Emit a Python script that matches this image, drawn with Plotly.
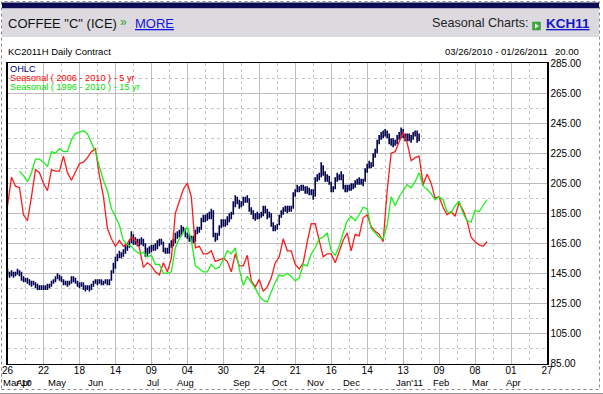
import plotly.graph_objects as go

# ---------------- data ----------------
day_ticks = ["26", "22", "18", "14", "09", "04", "30", "24", "21", "16", "14", "13", "09", "08", "01", "27"]
tick_spacing_days = 18
month_labels = ["Mar'10", "Apr", "May", "Jun", "Jul", "Aug", "Sep", "Oct", "Nov", "Dec", "Jan'11", "Feb", "Mar", "Apr"]
month_days = [5, 8, 25, 44, 72.6, 89, 117, 136, 154, 172, 201, 217, 236.5, 253]
price_ticks = [85, 105, 125, 145, 165, 185, 205, 225, 245, 265, 285]

ohlc_open = [
    146, 145, 144, 145, 144, 145, 146, 144, 141, 140,
    141, 139, 138, 138, 138, 136, 136, 135, 136, 135,
    136, 136, 137, 139, 140, 142, 143, 142, 140, 138,
    139, 138, 139, 142, 141, 139, 138, 137, 138, 136,
    135, 136, 135, 137, 139, 140, 139, 140, 138, 139,
    140, 138, 141, 146, 150, 155, 156, 158, 157, 160,
    162, 163, 166, 170, 166, 167, 165, 166, 167, 164,
    158, 160, 161, 163, 162, 163, 165, 166, 165, 161,
    160, 160, 164, 165, 166, 170, 171, 172, 175, 174,
    171, 170, 168, 168, 168, 173, 174, 175, 180, 182,
    181, 184, 183, 186, 170, 168, 171, 177, 180, 178,
    179, 181, 183, 185, 191, 195, 193, 190, 191, 195,
    194, 194, 187, 186, 183, 182, 184, 183, 184, 188,
    187, 183, 183, 177, 175, 176, 178, 183, 185, 187,
    188, 187, 189, 189, 198, 200, 202, 201, 203, 202,
    200, 201, 199, 200, 197, 208, 209, 210, 216, 212,
    208, 209, 205, 200, 202, 208, 210, 209, 210, 202,
    201, 203, 202, 203, 204, 205, 206, 207, 205, 208,
    214, 216, 218, 218, 224, 227, 233, 236, 237, 238,
    239, 237, 232, 233, 231, 233, 236, 237, 240, 236,
    235, 237, 234, 236, 238, 239, 234,
]
ohlc_high = [
    148, 146, 147, 146, 146, 148, 147, 146, 143, 142,
    142, 141, 140, 140, 139, 138, 137, 137, 137, 137,
    138, 138, 140, 141, 143, 145, 144, 143, 141, 140,
    140, 140, 143, 143, 142, 140, 139, 139, 139, 137,
    137, 137, 138, 140, 141, 141, 141, 141, 140, 141,
    141, 141, 147, 152, 156, 158, 160, 159, 161, 164,
    165, 167, 173, 171, 169, 168, 168, 169, 168, 165,
    162, 163, 164, 164, 165, 167, 168, 168, 166, 162,
    162, 165, 167, 168, 172, 173, 174, 177, 176, 175,
    172, 171, 170, 170, 174, 176, 176, 182, 184, 184,
    185, 186, 188, 187, 172, 172, 177, 181, 181, 181,
    183, 185, 186, 193, 197, 196, 194, 193, 196, 196,
    197, 195, 189, 187, 185, 186, 185, 186, 190, 190,
    188, 186, 185, 179, 177, 178, 184, 187, 189, 190,
    190, 190, 190, 199, 201, 204, 203, 204, 204, 203,
    203, 202, 201, 201, 209, 211, 212, 219, 217, 213,
    211, 210, 206, 203, 209, 212, 211, 213, 211, 204,
    204, 204, 205, 205, 207, 208, 209, 208, 208, 215,
    218, 220, 219, 225, 228, 234, 237, 239, 240, 241,
    240, 238, 235, 235, 234, 237, 239, 242, 241, 238,
    238, 238, 237, 239, 240, 240, 238,
]
ohlc_low = [
    144, 142, 143, 142, 143, 144, 143, 140, 139, 139,
    138, 137, 136, 137, 135, 134, 134, 134, 134, 134,
    134, 135, 136, 138, 139, 141, 140, 139, 137, 137,
    136, 137, 138, 139, 138, 136, 135, 136, 134, 133,
    134, 133, 134, 136, 138, 137, 138, 137, 137, 138,
    137, 137, 140, 145, 148, 153, 155, 155, 156, 158,
    160, 162, 165, 164, 164, 163, 163, 164, 163, 156,
    156, 158, 159, 160, 160, 161, 163, 164, 159, 158,
    158, 158, 162, 163, 165, 168, 169, 170, 172, 169,
    168, 166, 166, 165, 166, 171, 172, 174, 179, 179,
    180, 181, 181, 169, 166, 167, 170, 175, 176, 176,
    177, 179, 181, 184, 189, 191, 188, 189, 190, 192,
    192, 186, 184, 181, 180, 181, 181, 182, 183, 185,
    181, 182, 176, 173, 173, 174, 177, 182, 184, 186,
    185, 186, 186, 188, 196, 199, 199, 200, 200, 198,
    198, 197, 197, 194, 196, 206, 207, 209, 210, 206,
    206, 204, 199, 199, 201, 206, 207, 207, 201, 199,
    199, 200, 200, 201, 202, 204, 204, 204, 203, 206,
    212, 215, 215, 216, 222, 225, 231, 234, 235, 236,
    235, 231, 230, 229, 230, 231, 234, 235, 235, 233,
    233, 233, 232, 234, 236, 232, 233,
]
ohlc_close = [
    145, 144, 145, 144, 145, 146, 145, 141, 140, 141,
    139, 138, 138, 139, 136, 136, 135, 136, 135, 136,
    136, 137, 139, 140, 142, 143, 142, 141, 138, 139,
    138, 139, 142, 141, 139, 138, 137, 138, 136, 135,
    136, 135, 137, 139, 140, 139, 140, 138, 139, 140,
    138, 140, 146, 149, 155, 156, 158, 157, 160, 162,
    163, 166, 170, 166, 167, 165, 166, 167, 165, 158,
    160, 161, 163, 162, 163, 165, 166, 166, 161, 160,
    160, 164, 165, 166, 170, 171, 172, 175, 174, 171,
    170, 168, 168, 167, 173, 174, 174, 180, 182, 181,
    184, 183, 187, 170, 168, 171, 176, 180, 178, 179,
    181, 183, 184, 191, 195, 193, 190, 191, 195, 194,
    195, 187, 186, 183, 182, 184, 183, 184, 188, 187,
    183, 184, 177, 175, 176, 177, 183, 185, 187, 188,
    187, 189, 188, 198, 200, 202, 201, 203, 202, 200,
    201, 199, 200, 196, 208, 209, 210, 217, 212, 208,
    209, 205, 200, 201, 208, 210, 209, 211, 202, 201,
    203, 202, 203, 204, 205, 206, 207, 205, 207, 214,
    216, 218, 217, 224, 226, 233, 236, 237, 238, 239,
    237, 232, 233, 231, 232, 236, 237, 240, 236, 235,
    237, 234, 236, 238, 239, 233, 236,
]

# seasonal series, one value every 2 trading days
seasonal_step = 2
seasonal_5yr_start = 0
seasonal_5yr = [
    190, 209, 203, 202, 184, 180, 196, 214, 212, 205,
    200, 214, 213, 213, 223, 212, 207, 212, 218, 219,
    222, 226, 228, 210, 196, 175, 168, 163, 167, 163,
    165, 169, 167, 162, 149, 152, 150, 146, 144, 152,
    146, 155, 185, 193, 201, 205, 196, 162, 163, 158,
    158, 160, 153, 154, 155, 153, 146, 158, 150, 150,
    157, 140, 136, 141, 133, 136, 142, 152, 156, 168,
    160, 160, 151, 148, 152, 166, 178, 178, 167, 156,
    158, 158, 152, 160, 167, 172, 160, 171, 170, 182,
    184, 176, 173, 171, 166, 200, 225, 226, 232, 239,
    232, 220, 222, 223, 204, 211, 205, 195, 196, 189,
    184, 186, 183, 192, 187, 180, 169, 166, 164, 163,
    166,
]
seasonal_15yr_start = 6
seasonal_15yr = [
    213, 210, 206, 212, 221, 221, 219, 216, 226, 225,
    228, 226, 226, 234, 238, 239, 240, 238, 232, 226,
    216, 207, 200, 188, 183, 177, 167, 164, 163, 160,
    158, 159, 156, 157, 151, 151, 145, 145, 146, 162,
    168, 172, 176, 167, 150, 148, 146, 146, 151, 148,
    149, 154, 160, 158, 162, 148, 137, 143, 139, 135,
    130, 127, 126, 133, 139, 144, 143, 145, 143, 140,
    142, 151, 150, 158, 162, 168, 169, 172, 160, 157,
    163, 172, 180, 183, 180, 184, 189, 188, 175, 172,
    169, 168, 177, 196, 190, 196, 200, 204, 202, 206,
    212, 203, 201, 198, 194, 196, 194, 186, 185, 190,
    193, 185, 180, 179, 187, 186, 190, 194,
]

# ---------------- styling ----------------
W, H = 603, 394
FONT = "Liberation Sans, Arial, sans-serif"
NAVY = "#00004A"
RED = "#FF1A1A"
GREEN = "#1AF01A"
GRID = "#BDBDBD"
MINOR = "#C8C8C8"

def px(x):
    return x / W

def py(y):
    return 1 - y / H

n_ticks = len(day_ticks)
x_max = tick_spacing_days * (n_ticks - 1)
major_x = [k * tick_spacing_days for k in range(n_ticks)]
minor_x = [k * tick_spacing_days + tick_spacing_days / 2 for k in range(n_ticks - 1)]
minor_y = [v + 10 for v in price_ticks[:-1]]

fig = go.Figure()

fig.add_trace(go.Scatter(
    x=[seasonal_5yr_start + k * seasonal_step for k in range(len(seasonal_5yr))],
    y=seasonal_5yr, mode="lines", line=dict(color=RED, width=1.3),
    showlegend=False, hoverinfo="skip"))
fig.add_trace(go.Scatter(
    x=[seasonal_15yr_start + k * seasonal_step for k in range(len(seasonal_15yr))],
    y=seasonal_15yr, mode="lines", line=dict(color=GREEN, width=1.3),
    showlegend=False, hoverinfo="skip"))
fig.add_trace(go.Ohlc(
    x=list(range(len(ohlc_close))), open=ohlc_open, high=ohlc_high,
    low=ohlc_low, close=ohlc_close,
    increasing=dict(line=dict(color=NAVY, width=1.6)),
    decreasing=dict(line=dict(color=NAVY, width=1.6)),
    tickwidth=0.4, showlegend=False, hoverinfo="skip"))

fig.update_layout(
    width=W, height=H, margin=dict(l=0, r=0, t=0, b=0, autoexpand=False),
    paper_bgcolor="white", plot_bgcolor="white",
    font=dict(family=FONT, size=10, color="black"),
    showlegend=False,
    xaxis=dict(
        domain=[px(7.5), px(547)], range=[0, x_max], automargin=False,
        tickmode="array", tickvals=major_x, ticktext=day_ticks,
        ticklabelstandoff=-3,
        showgrid=True, gridcolor=GRID, gridwidth=1,
        minor=dict(tickmode="array", tickvals=minor_x, showgrid=True,
                   griddash="dot", gridcolor=MINOR, gridwidth=1),
        showline=True, linecolor="black", linewidth=1.5, mirror=True,
        ticks="", zeroline=False, tickfont=dict(size=10, family=FONT),
        rangeslider=dict(visible=False), fixedrange=True,
    ),
    yaxis=dict(
        domain=[py(363.5), py(63)], range=[85, 285], side="right", automargin=False,
        tickmode="array", tickvals=price_ticks,
        ticktext=[f"{v:.2f}" for v in price_ticks],
        showgrid=True, gridcolor=GRID, gridwidth=1,
        minor=dict(tickmode="array", tickvals=minor_y, showgrid=True,
                   griddash="dot", gridcolor=MINOR, gridwidth=1),
        showline=True, linecolor="black", linewidth=1.5, mirror=True,
        ticks="", zeroline=False, tickfont=dict(size=10, family=FONT),
        fixedrange=True,
    ),
)

shapes = [
    dict(type="rect", xref="paper", yref="paper", x0=px(1.5), x1=px(599.5), y0=py(389.5), y1=py(1.5),
         line=dict(color="#8A8A8A", width=1, dash="dot"), fillcolor="rgba(0,0,0,0)", layer="above"),
    dict(type="rect", xref="paper", yref="paper", x0=px(2), x1=px(599), y0=py(8.5), y1=py(2.5),
         line=dict(width=0), fillcolor="#0C0C52", layer="below"),
    dict(type="rect", xref="paper", yref="paper", x0=px(2), x1=px(599), y0=py(37), y1=py(8.5),
         line=dict(width=0), fillcolor="#DCDADF", layer="below"),
    dict(type="line", xref="paper", yref="paper", x0=0, x1=1, y0=py(393.5), y1=py(393.5),
         line=dict(color="#9A9A9A", width=1)),
    dict(type="rect", xref="paper", yref="paper", x0=px(532.5), x1=px(540.5), y0=py(30), y1=py(22),
         line=dict(color="#2C8C2C", width=0.5), fillcolor="#3DAA3D", layer="below"),
    dict(type="path", xref="paper", yref="paper",
         path=f"M {px(535)},{py(23.5)} L {px(538.8)},{py(26)} L {px(535)},{py(28.5)} Z",
         line=dict(width=0), fillcolor="white", layer="below"),
]
fig.update_layout(shapes=shapes)

def note(text, x, y, size, color="black", anchor="left"):
    return dict(text=text, xref="paper", yref="paper", x=px(x), y=py(y),
                xanchor=anchor, yanchor="middle", showarrow=False, borderpad=0,
                font=dict(family=FONT, size=size, color=color))

annotations = [
    note('COFFEE "C" (ICE)', 7, 23, 13, "#111111"),
    note("»", 118.5, 21.5, 12, "#2E9E2E"),
    note("<u>MORE</u>", 134, 23, 13, "#1414E6"),
    note("Seasonal Charts:", 431, 23, 12.6, "#222222"),
    note("<b><u>KCH11</u></b>", 545, 23, 13.5, "#1414CC"),
    note("KC2011H Daily Contract", 7, 51, 9.5),
    note("03/26/2010 - 01/26/2011", 549, 51, 9.5, anchor="right"),
    note("20.00", 580, 51, 9.5, anchor="right"),
    note("OHLC", 9, 68.5, 9.2, "#000080"),
    note("Seasonal ( 2006 - 2010 ) - 5 yr", 9, 77.8, 9.2, "#FF0000"),
    note("Seasonal ( 1996 - 2010 ) - 15 yr", 9, 86.8, 9.2, "#00DD00"),
]
for lbl, d in zip(month_labels, month_days):
    annotations.append(dict(text=lbl, xref="x", yref="paper", x=d, y=py(382.5),
                            xanchor="center", yanchor="middle", showarrow=False, borderpad=0,
                            font=dict(family=FONT, size=9.5, color="black")))
fig.update_layout(annotations=annotations)

fig.write_html(
    "out.html",
    config={"displayModeBar": False, "staticPlot": True},
    post_script="document.body.style.margin='0';document.body.style.padding='0';"
                "document.documentElement.style.overflow='hidden';",
)
